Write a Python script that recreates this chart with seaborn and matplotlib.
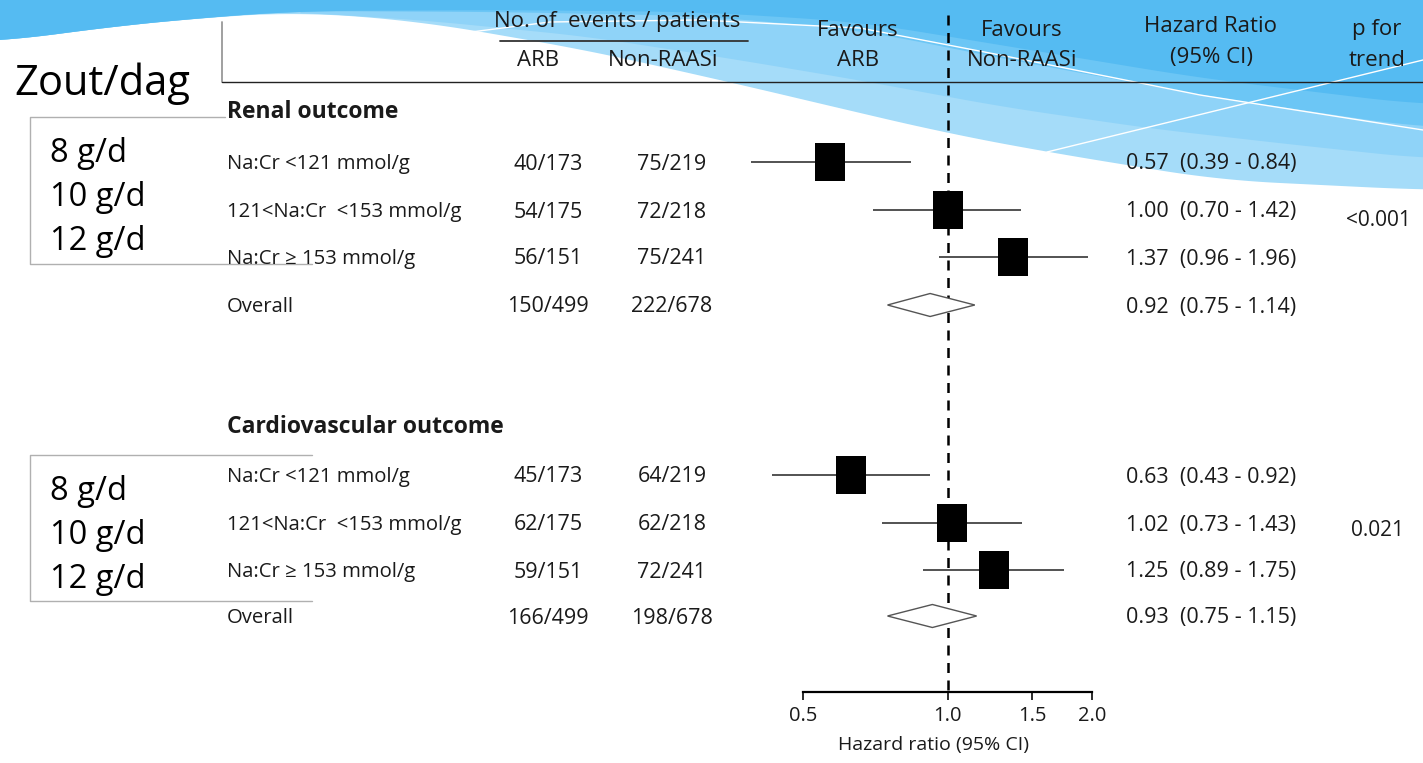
import numpy as np
import pandas as pd
import seaborn as sns
import matplotlib.pyplot as plt
from matplotlib.ticker import NullLocator

## data
subgroups = ["Na:Cr <121 mmol/g", "121<Na:Cr  <153 mmol/g", "Na:Cr \u2265 153 mmol/g", "Overall"]
salt_levels = ["8 g/d", "10 g/d", "12 g/d"]

arb_renal = ["40/173", "54/175", "56/151", "150/499"]
non_renal = ["75/219", "72/218", "75/241", "222/678"]
hr_renal = [0.57, 1.00, 1.37, 0.92]
lo_renal = [0.39, 0.70, 0.96, 0.75]
hi_renal = [0.84, 1.42, 1.96, 1.14]

arb_cv = ["45/173", "62/175", "59/151", "166/499"]
non_cv = ["64/219", "62/218", "72/241", "198/678"]
hr_cv = [0.63, 1.02, 1.25, 0.93]
lo_cv = [0.43, 0.73, 0.89, 0.75]
hi_cv = [0.92, 1.43, 1.75, 1.15]

p_trend = ["<0.001", "0.021"]
xticks = [0.5, 1.0, 1.5, 2.0]

# layout (pixel rows)
rows_renal = [162, 210, 257, 305]
rows_cv = [475, 523, 570, 616]

df = pd.concat([
    pd.DataFrame({"outcome": "Renal", "subgroup": subgroups, "arb": arb_renal, "non": non_renal,
                  "hr": hr_renal, "lo": lo_renal, "hi": hi_renal, "y": rows_renal}),
    pd.DataFrame({"outcome": "CV", "subgroup": subgroups, "arb": arb_cv, "non": non_cv,
                  "hr": hr_cv, "lo": lo_cv, "hi": hi_cv, "y": rows_cv}),
], ignore_index=True)

sns.set_style("white")
plt.rcParams['font.family'] = ['Open Sans', 'DejaVu Sans']
TXT = '#1a1a1a'
dy = 2  # text baseline nudge

W, H = 1423, 763
fig = plt.figure(figsize=(W / 100, H / 100), dpi=100)

# background axes in pixel units
bg = fig.add_axes([0, 0, 1, 1], zorder=0)
bg.set_xlim(0, W)
bg.set_ylim(H, 0)
bg.axis('off')

# blue swoosh decoration
def band(xs, ys, color):
    xs = np.array(xs, float)
    ys = np.array(ys, float)
    xx = np.linspace(xs[0], xs[-1], 200)
    yy = np.interp(xx, xs, ys)
    yy = np.convolve(np.pad(yy, 8, mode='edge'), np.ones(17) / 17, mode='valid')
    bg.fill_between(xx, 0, yy, color=color, lw=0, zorder=0)

band([0, 100, 200, 300, 425, 470, 586, 729, 860, 946, 1047, 1219, 1423],
     [42, 28, 18, 12, 22, 30, 50, 82, 113, 133, 152, 180, 190], '#a5dcf9')
band([300, 425, 586, 729, 860, 1000, 1150, 1300, 1423],
     [12, 20, 36, 58, 80, 106, 128, 145, 158], '#8fd3f8')
band([0, 100, 200, 300, 500, 700, 860, 1000, 1200, 1423],
     [42, 28, 18, 11, 12, 16, 30, 58, 95, 128], '#6cc6f5')
band([0, 100, 200, 300, 500, 700, 860, 1000, 1200, 1423],
     [42, 28, 18, 11, 10, 12, 22, 45, 78, 105], '#55bbf2')
bg.plot([471, 550, 700, 860, 1000, 1200, 1423], [32, 22, 20, 28, 55, 95, 130], color='white', lw=1, zorder=1)
bg.plot([1047, 1423], [152, 60], color='white', lw=1, zorder=1)

# header
bg.plot([222, 222], [22, 82], color='#999999', lw=1.3, zorder=2)
bg.plot([222, W], [82, 82], color='#222222', lw=1, zorder=2)
bg.plot([500, 748], [41, 41], color='#333333', lw=1.3, zorder=2)
hdr = dict(fontsize=16, color=TXT, ha='center', va='center', zorder=3)
bg.text(617, 20 + dy, "No. of  events / patients", **hdr)
bg.text(538, 58 + dy, "ARB", **hdr)
bg.text(663, 58 + dy, "Non-RAASi", **hdr)
bg.text(858, 28 + dy, "Favours", **hdr)
bg.text(858, 58 + dy, "ARB", **hdr)
bg.text(1022, 28 + dy, "Favours", **hdr)
bg.text(1022, 58 + dy, "Non-RAASi", **hdr)
bg.text(1211, 25 + dy, "Hazard Ratio", **hdr)
bg.text(1211, 56 + dy, "(95% CI)", **hdr)
bg.text(1377, 28 + dy, "p for", **hdr)
bg.text(1377, 58 + dy, "trend", **hdr)
bg.text(14, 82 + dy, "Zout/dag", fontsize=30, color='black', ha='left', va='center', zorder=3)

# salt boxes
for top, bot, ys in [(117, 264, [152, 196, 240]), (455, 601, [490, 534, 578])]:
    bg.plot([225 if top == 117 else 312, 30, 30, 312], [top, top, bot, bot], color='#b0b0b0', lw=1, zorder=2)
    for yy, s in zip(ys, salt_levels):
        bg.text(50, yy + dy, s, fontsize=23.5, color='black', ha='left', va='center', zorder=3)

# table text
bg.text(227, 110 + dy, "Renal outcome", fontsize=16.5, fontweight='bold', color=TXT, va='center', zorder=3)
bg.text(227, 425 + dy, "Cardiovascular outcome", fontsize=16.5, fontweight='bold', color=TXT, va='center', zorder=3)
for _, r in df.iterrows():
    bg.text(227, r.y + dy, r.subgroup, fontsize=14.6, color=TXT, va='center', zorder=3)
    bg.text(548, r.y + dy, r.arb, fontsize=15.5, color=TXT, ha='center', va='center', zorder=3)
    bg.text(672, r.y + dy, r.non, fontsize=15.5, color=TXT, ha='center', va='center', zorder=3)
    bg.text(1126, r.y + dy, f"{r.hr:.2f}  ({r.lo:.2f} - {r.hi:.2f})", fontsize=15.5, color=TXT,
            va='center', zorder=3)
bg.text(1378, 218 + dy, p_trend[0], fontsize=15, color=TXT, ha='center', va='center', zorder=3)
bg.text(1378, 529 + dy, p_trend[1], fontsize=15, color=TXT, ha='center', va='center', zorder=3)

# forest axes
x0, x1 = 803, 1092
ax = fig.add_axes([x0 / W, 0, (x1 - x0) / W, 1], zorder=1)
ax.patch.set_visible(False)
ax.set_xscale('log', base=2)
ax.set_xlim(0.5, 2.0)
ax.set_ylim(H, 0)

ax.vlines(1.0, 15, 692, colors='black', linestyles=(0, (4, 3)), lw=1.8, zorder=2)

sub = df[df.subgroup != "Overall"]
ax.hlines(sub.y, sub.lo, sub.hi, colors='#444444', lw=1.3, clip_on=False, zorder=3)
rect = [(-0.4, -0.5), (0.4, -0.5), (0.4, 0.5), (-0.4, 0.5), (-0.4, -0.5)]
sns.scatterplot(data=sub, x='hr', y='y', marker=rect, s=748, color='black', linewidth=0,
                ax=ax, legend=False, clip_on=False, zorder=4)

tot = df[df.subgroup == "Overall"]
for _, r in tot.iterrows():
    ax.fill([r.lo, r.hr, r.hi, r.hr, r.lo], [r.y, r.y - 11.5, r.y, r.y + 11.5, r.y],
            facecolor='white', edgecolor='#555555', lw=1, clip_on=False, zorder=4)

for s in ['top', 'left', 'right']:
    ax.spines[s].set_visible(False)
ax.spines['bottom'].set_position(('data', 692))
ax.spines['bottom'].set_linewidth(1.6)
ax.spines['bottom'].set_color('black')
ax.set_yticks([])
ax.set_xticks(xticks)
ax.set_xticklabels([f"{t:.1f}" for t in xticks])
ax.xaxis.set_minor_locator(NullLocator())
ax.tick_params(axis='x', direction='out', length=6, width=1.3, pad=4, labelsize=14.5, colors=TXT, bottom=True)
ax.set_xlabel("Hazard ratio (95% CI)", fontsize=14, color=TXT)
ax.xaxis.set_label_coords(0.453, 0.035)
ax.set_ylabel("")

fig.savefig("out.png", dpi=100)
